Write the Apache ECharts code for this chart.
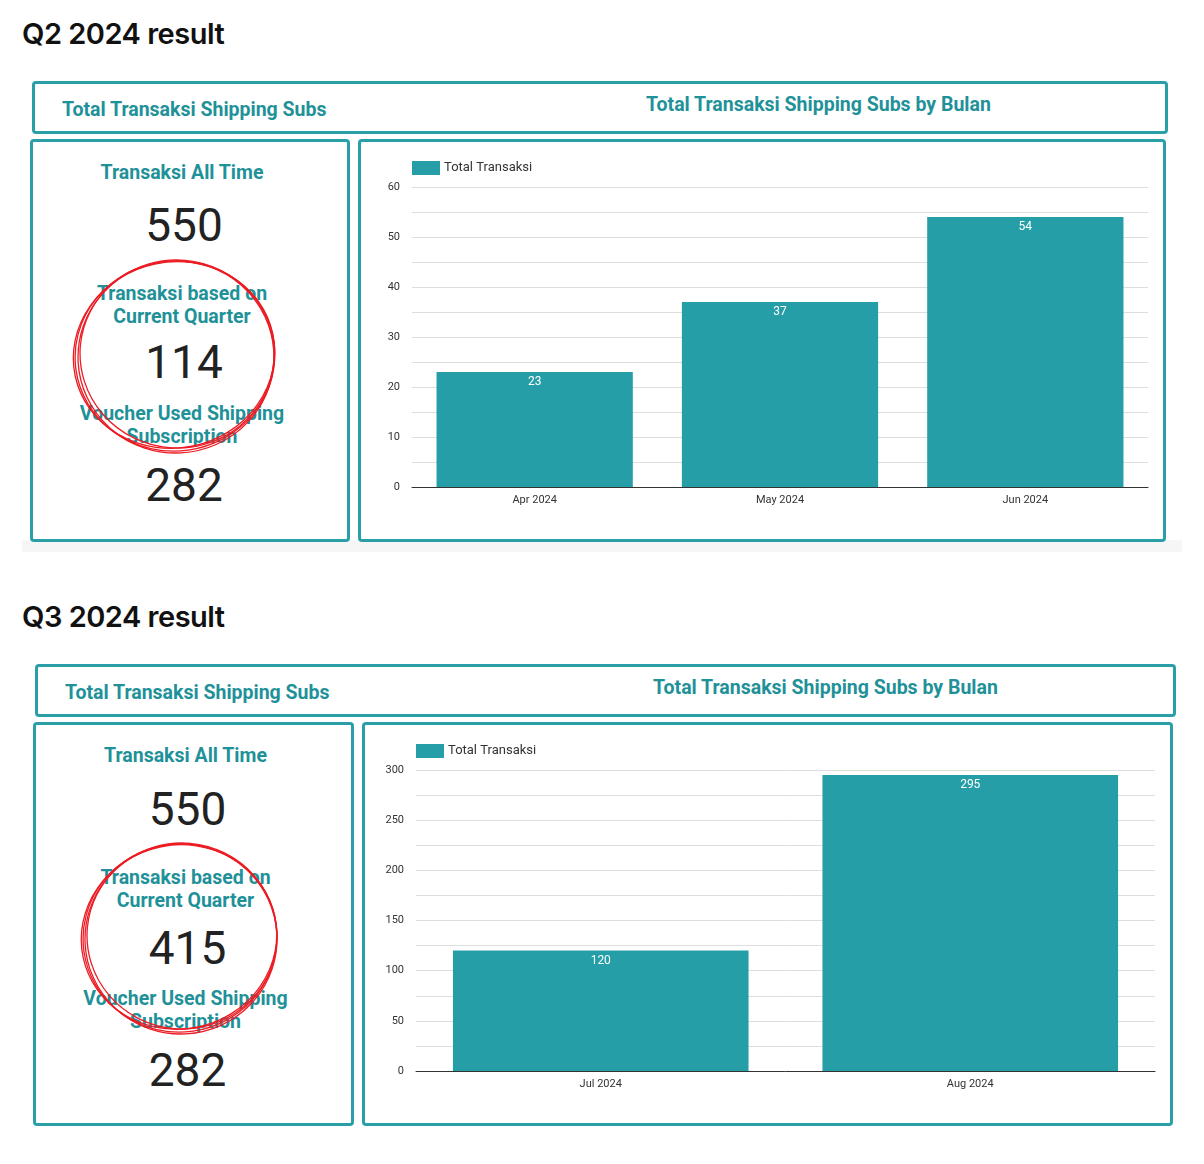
<!DOCTYPE html>
<html lang="id">
<head>
<meta charset="UTF-8">
<title>Q2 / Q3 2024 result</title>
<script src="https://cdnjs.cloudflare.com/ajax/libs/echarts/6.0.0/echarts.min.js"></script>
<style>
  body { margin: 0; width: 1204px; height: 1164px; background: #fff; position: relative; font-family: Roboto, 'Noto Sans', sans-serif; overflow: hidden; }
  .abs { position: absolute; box-sizing: border-box; }
  .section-title { font-family: Inter, 'Noto Sans', sans-serif; font-weight: 600; font-size: 29px; color: #111; letter-spacing: -0.5px; }
  .panel { border: 3px solid #2a9fa7; border-radius: 4px; background: #fff; }
  .teal { color: #1f9199; font-weight: 700; font-size: 19.5px; white-space: nowrap; }
  .lbl { position: absolute; left: -8px; width: 100%; text-align: center; line-height: 23px; }
  .num { position: absolute; left: -6px; width: 100%; text-align: center; font-size: 46px; color: #222; line-height: 50px; }
  svg.ring { position: absolute; left: 0; top: 0; pointer-events: none; }
</style>
</head>
<body>

<div class="abs" style="left:22px;top:540px;width:1160px;height:12px;background:#f6f6f6;"></div>

<!-- Q2 -->
<div class="abs section-title" style="left:22px;top:16px;">Q2 2024 result</div>
<div class="abs panel" style="left:32px;top:81px;width:1136px;height:53px;">
  <div class="abs teal" style="left:27px;top:14px;">Total Transaksi Shipping Subs</div>
  <div class="abs teal" style="left:496px;width:575px;top:9px;text-align:center;">Total Transaksi Shipping Subs by Bulan</div>
</div>
<div class="abs panel" style="left:30px;top:139px;width:320px;height:403px;">
  <div class="lbl teal" style="top:19px;">Transaksi All Time</div>
  <div class="num" style="top:58px;">550</div>
  <div class="lbl teal" style="top:140px;">Transaksi based on<br>Current Quarter</div>
  <div class="num" style="top:195px;">114</div>
  <div class="lbl teal" style="top:260px;">Voucher Used Shipping<br>Subscription</div>
  <div class="num" style="top:318px;">282</div>
</div>
<div class="abs panel" style="left:358px;top:139px;width:808px;height:403px;"></div>
<div class="abs" id="chartQ2" style="left:361px;top:142px;width:802px;height:397px;"></div>

<!-- Q3 -->
<div class="abs section-title" style="left:22px;top:599px;">Q3 2024 result</div>
<div class="abs panel" style="left:35px;top:664px;width:1141px;height:53px;">
  <div class="abs teal" style="left:27px;top:14px;">Total Transaksi Shipping Subs</div>
  <div class="abs teal" style="left:500px;width:575px;top:9px;text-align:center;">Total Transaksi Shipping Subs by Bulan</div>
</div>
<div class="abs panel" style="left:33px;top:722px;width:321px;height:404px;">
  <div class="lbl teal" style="top:19px;">Transaksi All Time</div>
  <div class="num" style="top:59px;">550</div>
  <div class="lbl teal" style="top:141px;">Transaksi based on<br>Current Quarter</div>
  <div class="num" style="top:198px;">415</div>
  <div class="lbl teal" style="top:262px;">Voucher Used Shipping<br>Subscription</div>
  <div class="num" style="top:320px;">282</div>
</div>
<div class="abs panel" style="left:362px;top:722px;width:811px;height:404px;"></div>
<div class="abs" id="chartQ3" style="left:365px;top:725px;width:805px;height:398px;"></div>

<!-- hand drawn red rings -->
<svg class="ring" width="1204" height="1164">
  <g fill="none" stroke="#ec1c24" stroke-width="1.3">
    <ellipse cx="175" cy="356" rx="100" ry="95" transform="rotate(-8 175 356)"/>
    <ellipse cx="176" cy="357" rx="98" ry="96" transform="rotate(-3 176 357)"/>
    <ellipse cx="174" cy="355" rx="101" ry="93" transform="rotate(-12 174 355)"/>
    <ellipse cx="177" cy="354" rx="97" ry="94" transform="rotate(5 177 354)"/>

    <ellipse cx="180" cy="938" rx="97" ry="94" transform="rotate(-8 180 938)"/>
    <ellipse cx="181" cy="939" rx="96" ry="95" transform="rotate(-3 181 939)"/>
    <ellipse cx="179" cy="937" rx="98" ry="92" transform="rotate(-12 179 937)"/>
    <ellipse cx="182" cy="936" rx="95" ry="93" transform="rotate(5 182 936)"/>
  </g>
</svg>

<script>
  // data per quarter
  var q2Months = ['Apr 2024', 'May 2024', 'Jun 2024'];
  var q2Totals = [23, 37, 54];
  var q3Months = ['Jul 2024', 'Aug 2024'];
  var q3Totals = [120, 295];

  var teal = '#259ea7';

  function drawBars(el, months, totals, maxY, step) {
    var chart = echarts.init(document.getElementById(el));
    var option = {
      animation: false,
      textStyle: { fontFamily: 'Roboto' },
      legend: {
        left: 46,
        top: 14,
        itemWidth: 28,
        itemHeight: 14,
        itemGap: 4,
        icon: 'rect',
        textStyle: { color: '#333', fontSize: 13, padding: [0, 0, 0, -1] },
        data: ['Total Transaksi']
      },
      grid: { left: 51, right: 15, top: 45, bottom: 52 },
      xAxis: {
        type: 'category',
        data: months,
        axisTick: { show: false },
        axisLine: { lineStyle: { color: '#333', width: 1 } },
        axisLabel: { color: '#333', fontSize: 11, margin: 8 }
      },
      yAxis: {
        type: 'value',
        min: 0,
        max: maxY,
        interval: step,
        axisLine: { show: false },
        axisTick: { show: false },
        axisLabel: { color: '#333', fontSize: 11, margin: 12 },
        splitLine: { lineStyle: { color: '#dedede' } },
        minorTick: { show: false, splitNumber: 2 },
        minorSplitLine: { show: true, lineStyle: { color: '#dedede' } }
      },
      series: [
        {
          name: 'Total Transaksi',
          type: 'bar',
          barCategoryGap: '20%',
          itemStyle: { color: teal },
          label: {
            show: true,
            position: 'insideTop',
            distance: 4,
            color: '#fff',
            fontSize: 12
          },
          data: totals
        }
      ]
    };
    chart.setOption(option);
  }

  drawBars('chartQ2', q2Months, q2Totals, 60, 10);
  drawBars('chartQ3', q3Months, q3Totals, 300, 50);
</script>
</body>
</html>
